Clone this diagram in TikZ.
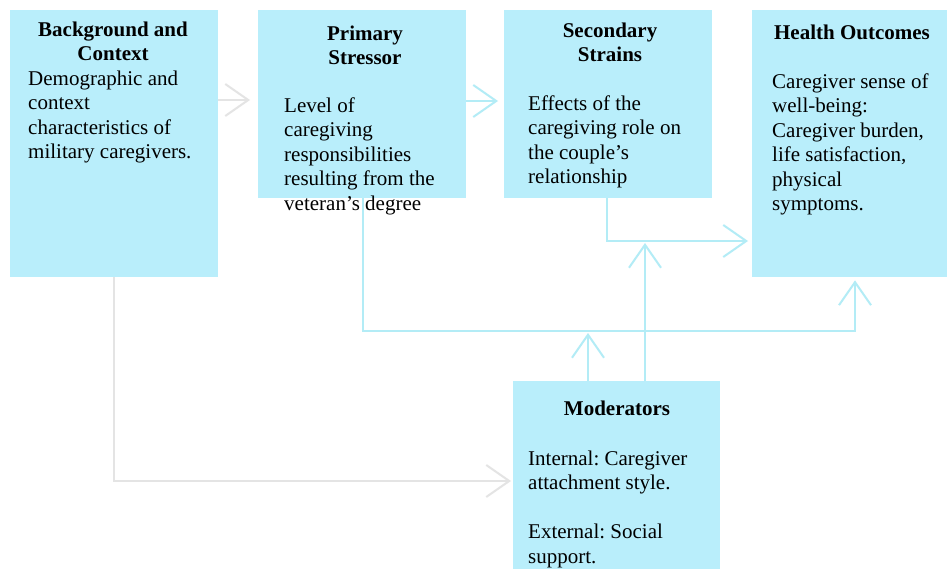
\documentclass[tikz,border=0pt]{standalone}
\usepackage{fontspec}
\setmainfont{Liberation Serif}
\usetikzlibrary{arrows.meta}
\frenchspacing

\definecolor{boxfill}{HTML}{B9EEFB}
\definecolor{cyanline}{HTML}{B3ECF6}
\definecolor{greyline}{HTML}{E4E4E4}

\newcommand{\firststrut}{\rule{0pt}{15pt}}

\tikzset{
  panel/.style={fill=boxfill, draw=none, inner sep=0pt, anchor=north west},
  heading/.style={font=\fontsize{21}{24.5}\selectfont\bfseries, align=center,
    anchor=north, inner sep=0pt},
  bodytext/.style={font=\fontsize{21}{24.5}\selectfont, align=left,
    anchor=north west, inner sep=0pt},
  link/.style={line width=2pt, -{Straight Barb[length=23pt,width=32pt]}},
  cyanlink/.style={link, draw=cyanline},
  greylink/.style={link, draw=greyline}
}

\begin{document}
\begin{tikzpicture}[x=1pt, y=-1pt]
\useasboundingbox (0,0) rectangle (947,569);
\fill[white] (0,0) rectangle (947,569);

% boxes
\node[panel, minimum width=208pt, minimum height=267pt] (bg)  at (10,10)  {};
\node[panel, minimum width=208pt, minimum height=188pt] (ps)  at (258,10) {};
\node[panel, minimum width=208pt, minimum height=188pt] (ss)  at (504,10) {};
\node[panel, minimum width=195pt, minimum height=267pt] (ho)  at (752,10) {};
\node[panel, minimum width=207pt, minimum height=188pt] (mod) at (513,381) {};

% headings
\node[heading] (bgT)  at (113,21)  {\firststrut Background and\\Context};
\node[heading] (psT)  at (365,25)  {\firststrut Primary\\Stressor};
\node[heading] (ssT)  at (610,22)  {\firststrut Secondary\\Strains};
\node[heading] (hoT)  at (852,24)  {\firststrut Health Outcomes};
\node[heading] (modT) at (617,400) {\firststrut Moderators};

% body texts
\node[bodytext] (bgB) at (28,70) {\firststrut Demographic and\\context\\characteristics of\\military caregivers.};
\node[bodytext] (psB) at (284,97) {\firststrut Level of\\caregiving\\responsibilities\\resulting from the\\veteran’s degree};
\node[bodytext] (ssB) at (528,95) {\firststrut Effects of the\\caregiving role on\\the couple’s\\relationship};
\node[bodytext] (hoB) at (772,73) {\firststrut Caregiver sense of\\well-being:\\Caregiver burden,\\life satisfaction,\\physical\\symptoms.};
\node[bodytext] (modB) at (528,450) {\firststrut Internal: Caregiver\\attachment style.\\[24.5pt]External: Social\\support.};

% junction points on the connectors
\coordinate (j1) at (645,243);
\coordinate (j2) at (588,333);

% connectors
\draw[greylink, shorten >=8pt] (bg.east |- 0,100) -- (ps.west |- 0,100);
\draw[cyanlink, shorten >=6pt] (ps.east |- 0,101) -- (ss.west |- 0,101);
\draw[cyanlink, shorten >=4pt] (ss.south -| 607,0) |- (ho.west |- 0,241);
\draw[cyanlink, shorten >=3pt] (ps.south -| 363,0) |- (855,331) -- (ho.south -| 855,0);
\draw[cyanlink] (mod.north -| 645,0) -- (j1);
\draw[cyanlink] (mod.north -| 588,0) -- (j2);
\draw[greylink, shorten >=2pt] (bg.south -| 114,0) |- (mod.west |- 0,481);
\end{tikzpicture}
\end{document}
